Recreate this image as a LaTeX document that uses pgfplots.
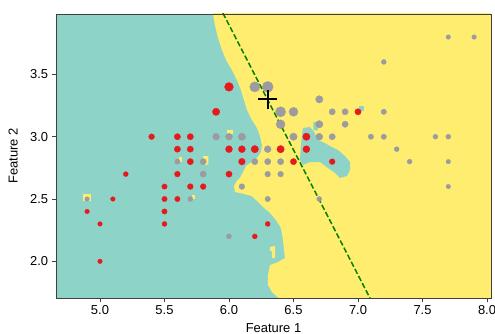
\documentclass[border=0pt]{standalone}
\usepackage{fontspec}
\setmainfont{Liberation Sans}
\usepackage{pgfplots}
\pgfplotsset{compat=1.18}
\definecolor{bgteal}{HTML}{8DD3C7}
\definecolor{bgyellow}{HTML}{FFED6F}
\definecolor{ptred}{RGB}{230,26,28}
\definecolor{ptgray}{RGB}{155,155,160}
\definecolor{lgreen}{HTML}{008000}
\pgfplotsset{
  rpt/.style={only marks, mark=*, color=ptred, mark options={line width=0.3bp}, mark size=#1},
  gpt/.style={only marks, mark=*, color=ptgray, mark options={line width=0.3bp}, mark size=#1},
}
\begin{document}
\begin{tikzpicture}
\begin{axis}[
  at={(0,0)}, anchor=south west,
  width=435bp, height=284bp, scale only axis,
  xmin=4.659, xmax=8.031, ymin=1.7055, ymax=3.985,
  axis background/.style={fill=bgteal},
  axis on top,
  axis line style={draw=black!75, line width=0.8bp},
  tick pos=left, tick align=outside,
  major tick length=4.4bp,
  every tick/.style={black!75, line width=0.8bp},
  xtick={5,5.5,6,6.5,7,7.5,8}, ytick={2,2.5,3,3.5},
  /pgf/number format/fixed, /pgf/number format/fixed zerofill,
  /pgf/number format/precision=1, /pgf/number format/assume math mode=true,
  font=\fontsize{13}{15}\selectfont,
  xlabel={Feature 1}, ylabel={Feature 2},
  xlabel style={at={(axis description cs:0.5,-0.1215)}, anchor=base},
  ylabel style={at={(axis description cs:-0.0885,0.5)}, anchor=base},
]
% yellow decision region
\addplot[fill=bgyellow, draw=none] coordinates {
(5.868,4.05) (5.876,3.985) (5.891,3.896) (5.915,3.792) (5.946,3.696) (5.977,3.616)
(6.023,3.535) (6.062,3.455) (6.093,3.375) (6.116,3.295) (6.140,3.214) (6.178,3.134)
(6.217,3.070) (6.240,3.006) (6.256,2.933) (6.248,2.877) (6.217,2.829) (6.178,2.797)
(6.132,2.765) (6.109,2.717) (6.085,2.669) (6.054,2.636) (6.039,2.604) (6.047,2.556)
(6.085,2.548) (6.178,2.524) (6.225,2.476) (6.264,2.436) (6.318,2.388) (6.364,2.331)
(6.403,2.267) (6.419,2.171) (6.426,2.091) (6.434,2.026) (6.380,1.994) (6.318,1.970)
(6.302,1.890) (6.302,1.810) (6.333,1.753) (6.385,1.705) (6.39,1.65)
(8.1,1.65) (8.1,4.05)
} -- cycle;
% teal blob in yellow region
\addplot[fill=bgteal, draw=none] coordinates {
(6.574,3.070) (6.628,3.078) (6.659,3.038) (6.690,2.974) (6.744,2.949) (6.783,2.925)
(6.845,2.893) (6.899,2.845) (6.938,2.797) (6.938,2.733) (6.915,2.685) (6.860,2.669)
(6.822,2.709) (6.767,2.749) (6.705,2.797) (6.628,2.797) (6.574,2.773) (6.550,2.813)
(6.558,2.933) (6.566,3.014)
} -- cycle;
\addplot[fill=bgteal, draw=none] coordinates {(6.655,3.12) (6.685,3.12) (6.69,3.05) (6.655,3.05)} -- cycle;
\addplot[fill=bgteal, draw=none] coordinates {(7.005,3.25) (7.045,3.25) (7.045,3.205) (7.005,3.205)} -- cycle;
% yellow islands in teal region
\addplot[fill=bgyellow, draw=none] coordinates {(4.872,2.54) (4.932,2.54) (4.932,2.482) (4.872,2.482)} -- cycle;
\addplot[fill=bgyellow, draw=none] coordinates {(5.80,2.845) (5.84,2.845) (5.84,2.78) (5.815,2.77) (5.80,2.80)} -- cycle;
\addplot[fill=bgyellow, draw=none] coordinates {(5.612,2.837) (5.636,2.837) (5.636,2.80) (5.612,2.80)} -- cycle;
\addplot[fill=bgyellow, draw=none] coordinates {(5.713,2.532) (5.736,2.532) (5.736,2.50) (5.713,2.50)} -- cycle;
\addplot[fill=bgyellow, draw=none] coordinates {(5.985,3.054) (6.03,3.054) (6.03,3.022) (5.985,3.022)} -- cycle;
\addplot[fill=bgyellow, draw=none] coordinates {(6.318,2.115) (6.357,2.123) (6.357,2.026) (6.333,2.026) (6.333,2.083) (6.318,2.083)} -- cycle;
% red points (class 1), grouped by marker radius
\addplot[rpt=2.3bp] coordinates {(4.9,2.4) (5.0,2.0) (5.0,2.3) (5.1,2.5)};
\addplot[rpt=2.5bp] coordinates {(5.5,2.3) (5.2,2.7) (6.2,2.2) (6.3,2.3)};
\addplot[rpt=2.7bp] coordinates {(5.6,2.5) (5.5,2.4) (5.5,2.5) (5.5,2.6)};
\addplot[rpt=2.9bp] coordinates {(5.7,2.6) (5.4,3.0) (5.8,2.6) (5.6,2.7) (6.8,2.8)};
\addplot[rpt=3.15bp] coordinates {(7.0,3.2) (6.5,2.8) (5.7,2.8) (5.6,2.9) (5.6,3.0) (6.0,2.7) (5.7,3.0) (5.7,2.9)};
\addplot[rpt=3.35bp] coordinates {(6.1,2.8)};
\addplot[rpt=3.5bp] coordinates {(6.6,2.9) (6.0,2.9) (6.1,2.9)};
\addplot[rpt=3.7bp] coordinates {(5.9,3.2) (6.4,2.9) (6.6,3.0) (6.2,2.9)};
\addplot[rpt=4.4bp] coordinates {(6.0,3.4)};
% gray points (class 2), grouped by marker radius
\addplot[gpt=2.3bp] coordinates {(4.9,2.5) (7.7,3.8) (7.7,2.6) (7.7,2.8) (7.9,3.8)};
\addplot[gpt=2.5bp] coordinates {(7.6,3.0) (7.3,2.9) (6.7,2.5) (7.2,3.6) (5.7,2.5) (6.0,2.2) (7.4,2.8) (7.7,3.0)};
\addplot[gpt=2.7bp] coordinates {(7.1,3.0) (5.6,2.8) (7.2,3.2) (7.2,3.0) (6.3,2.5)};
\addplot[gpt=2.9bp] coordinates {(6.4,2.7) (6.3,2.7) (6.1,2.6)};
\addplot[gpt=3.15bp] coordinates {(5.8,2.7) (6.8,3.0) (5.8,2.8) (6.9,3.2) (6.2,2.8) (6.4,2.8) (6.3,2.8) (6.9,3.1) (6.8,3.2)};
\addplot[gpt=3.45bp] coordinates {(6.3,2.9) (6.0,3.0) (6.7,3.0) (5.9,3.0)};
\addplot[gpt=3.7bp] coordinates {(6.5,3.0) (6.7,3.3) (6.1,3.0) (6.7,3.1)};
\addplot[gpt=4.5bp] coordinates {(6.5,3.2) (6.4,3.1)};
\addplot[gpt=5.1bp] coordinates {(6.4,3.2) (6.2,3.4)};
\addplot[gpt=5.5bp] coordinates {(6.3,3.4)};
% dashed line
\addplot[lgreen, line width=1.5bp, dash pattern=on 5.5bp off 2.5bp] coordinates {(5.924,4.05) (7.120,1.65)};
% query point
\addplot[only marks, mark=+, mark size=9.3bp, line width=2bp, black] coordinates {(6.3,3.3)};
\end{axis}
\pgfresetboundingbox
\path[use as bounding box] (-56bp,-36bp) rectangle (439bp,298bp);
\end{tikzpicture}
\end{document}
